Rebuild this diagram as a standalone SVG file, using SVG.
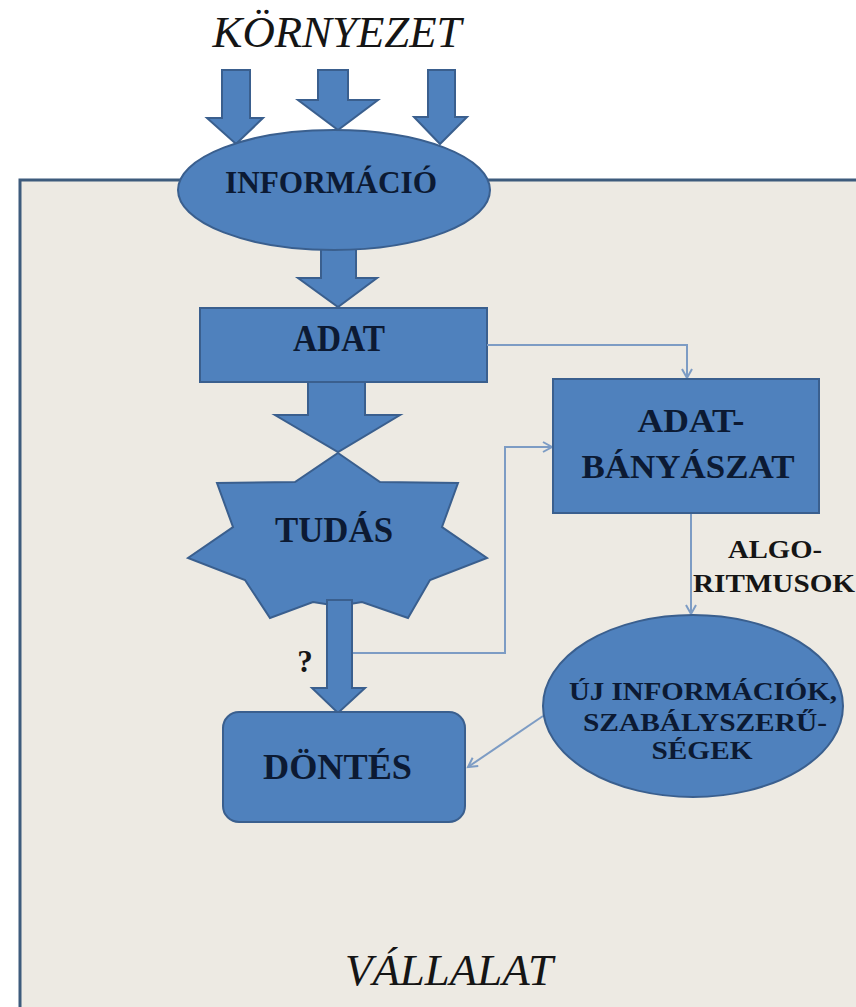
<svg xmlns="http://www.w3.org/2000/svg" width="856" height="1007" viewBox="0 0 856 1007">
<defs>
<style>
.node{fill:#4f81bd;stroke:#3a5f8e;stroke-width:2}
.lbl{font-family:"Liberation Serif","Times New Roman",serif;font-weight:bold;fill:#0c1a33;text-anchor:middle}
.ital{font-family:"Liberation Serif","Times New Roman",serif;font-style:italic;fill:#151515;text-anchor:middle}
.conn{fill:none;stroke:#7d9cc4;stroke-width:2}
</style>
<marker id="open" markerWidth="14" markerHeight="14" refX="10" refY="6" orient="auto" markerUnits="userSpaceOnUse">
<path d="M1,1 L10,6 L1,11" fill="none" stroke="#7d9cc4" stroke-width="2"/>
</marker>
</defs>
<rect width="856" height="1007" fill="#ffffff"/>
<g id="vallalat">
<rect x="20" y="180" width="860" height="840" fill="#edeae3" stroke="#3d5b7c" stroke-width="3"/>
<text class="ital" x="449" y="985" font-size="45" textLength="208" lengthAdjust="spacingAndGlyphs">VÁLLALAT</text>
</g>
<g id="kornyezet">
<text class="ital" x="337" y="47" font-size="45" textLength="249" lengthAdjust="spacingAndGlyphs">KÖRNYEZET</text>
</g>
<g id="block-arrows">
<polygon class="node" points="222,70 250,70 250,118 263,118 236,144 207,118 222,118"/>
<polygon class="node" points="318,70 348,70 348,100 378,100 338,130 298,100 318,100"/>
<polygon class="node" points="428,70 455,70 455,117 467,117 440,144 414,117 428,117"/>
<polygon class="node" points="321,240 356,240 356,278 377,278 338,307 298,278 321,278"/>
<polygon class="node" points="308,382 365,382 365,415 400,415 338,452 275,415 308,415"/>
</g>
<g id="informacio">
<ellipse class="node" cx="334" cy="190" rx="156" ry="60"/>
<text class="lbl" x="331" y="193" font-size="32" textLength="212" lengthAdjust="spacingAndGlyphs">INFORMÁCIÓ</text>
</g>
<g id="adat">
<rect class="node" x="200" y="308" width="287" height="74"/>
<text class="lbl" x="339" y="351" font-size="37" textLength="92" lengthAdjust="spacingAndGlyphs">ADAT</text>
</g>
<g id="tudas">
<polygon class="node" points="338,453 380,482 458,483 442,527 487,558 430,580 408,618 362,602 338,606 313,602 270,618 245,580 188,558 233,527 217,483 295,482"/>
<text class="lbl" x="334" y="542" font-size="36" textLength="118" lengthAdjust="spacingAndGlyphs">TUDÁS</text>
</g>
<g id="connectors">
<path class="conn" d="M487,345 H687 V378" marker-end="url(#open)"/>
<path class="conn" d="M352,653 H505 V447 H552" marker-end="url(#open)"/>
<path class="conn" d="M691,513 V614" marker-end="url(#open)"/>
<path class="conn" d="M543,716 L468,767" marker-end="url(#open)"/>
</g>
<g id="tudas-dontes-arrow">
<polygon class="node" points="327,600 352,600 352,688 365,688 338,713 312,688 327,688"/>
<text class="lbl" x="305" y="672" font-size="31" style="fill:#151515">?</text>
</g>
<g id="dontes">
<rect class="node" x="223" y="712" width="242" height="110" rx="16"/>
<text class="lbl" x="337.5" y="779" font-size="36" textLength="149" lengthAdjust="spacingAndGlyphs">DÖNTÉS</text>
</g>
<g id="adatbanyaszat">
<rect class="node" x="553" y="379" width="266" height="134"/>
<text class="lbl" x="691" y="432" font-size="33" textLength="107" lengthAdjust="spacingAndGlyphs">ADAT-</text>
<text class="lbl" x="688" y="478" font-size="33" textLength="213" lengthAdjust="spacingAndGlyphs">BÁNYÁSZAT</text>
</g>
<g id="algoritmusok">
<text class="lbl" x="775" y="558" font-size="25" textLength="94" lengthAdjust="spacingAndGlyphs" style="fill:#151515">ALGO-</text>
<text class="lbl" x="774" y="592" font-size="26" textLength="162" lengthAdjust="spacingAndGlyphs" style="fill:#151515">RITMUSOK</text>
</g>
<g id="ujinformaciok">
<ellipse class="node" cx="693" cy="706" rx="150" ry="91"/>
<text class="lbl" x="703" y="700" font-size="26" textLength="268" lengthAdjust="spacingAndGlyphs">ÚJ INFORMÁCIÓK,</text>
<text class="lbl" x="705" y="731" font-size="26" textLength="244" lengthAdjust="spacingAndGlyphs">SZABÁLYSZERŰ-</text>
<text class="lbl" x="702" y="759" font-size="26" textLength="101" lengthAdjust="spacingAndGlyphs">SÉGEK</text>
</g>
</svg>
